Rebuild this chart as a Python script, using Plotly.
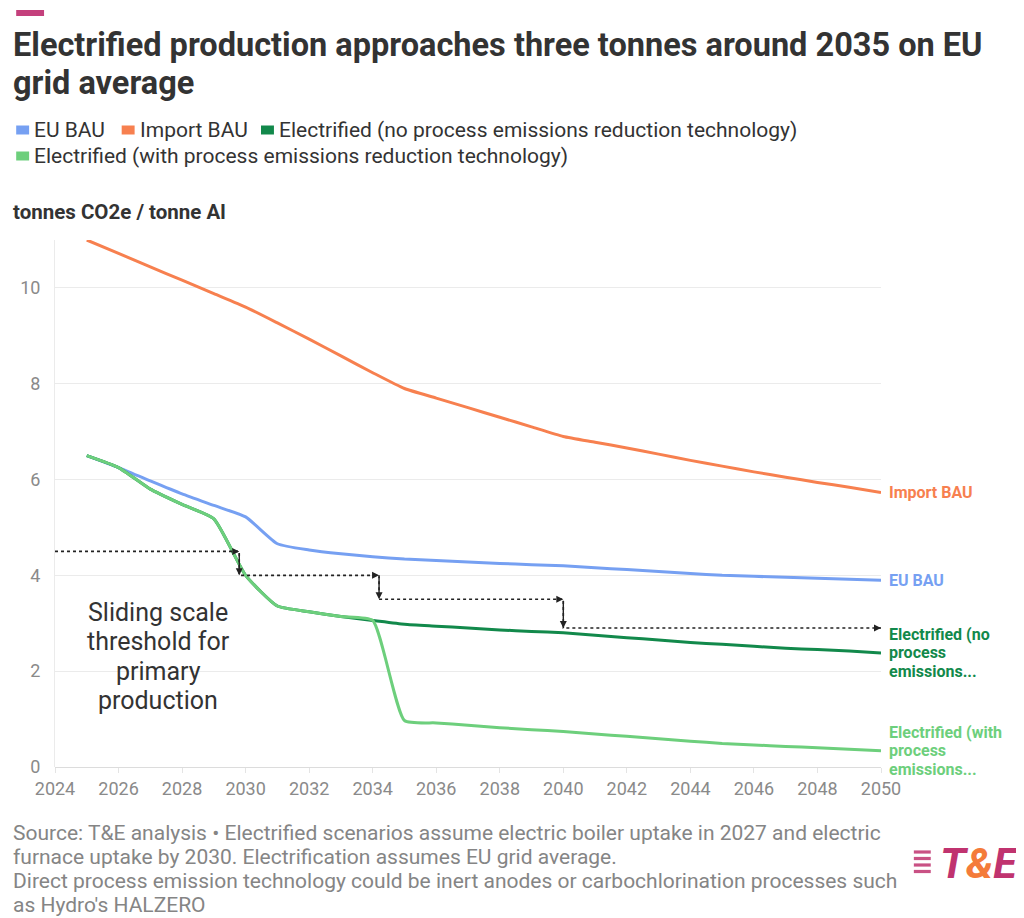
import plotly.graph_objects as go

# ---------------- data ----------------
years = list(range(2025, 2051))

eu_bau = [6.50, 6.25, 5.97, 5.70, 5.46, 5.22, 4.66, 4.53, 4.45, 4.39, 4.34, 4.31, 4.28, 4.25, 4.22, 4.20,
          4.16, 4.12, 4.08, 4.04, 4.00, 3.98, 3.96, 3.94, 3.92, 3.90]
import_bau = [11.00, 10.72, 10.44, 10.16, 9.88, 9.60, 9.27, 8.93, 8.58, 8.23, 7.90, 7.70, 7.50, 7.30, 7.10, 6.90,
              6.78, 6.66, 6.53, 6.40, 6.28, 6.16, 6.05, 5.94, 5.84, 5.73]
elec_no_tech = [6.50, 6.25, 5.80, 5.48, 5.18, 4.00, 3.36, 3.24, 3.14, 3.06, 2.98, 2.94, 2.90, 2.86, 2.83, 2.80,
                2.75, 2.70, 2.65, 2.60, 2.56, 2.52, 2.48, 2.45, 2.42, 2.38]
elec_with_tech = [6.50, 6.25, 5.80, 5.48, 5.18, 4.00, 3.36, 3.24, 3.14, 3.06, 0.97, 0.92, 0.87, 0.82, 0.78, 0.74,
                  0.69, 0.64, 0.59, 0.54, 0.49, 0.46, 0.43, 0.40, 0.37, 0.34]

series_names = ["EU BAU", "Import BAU", "Electrified (no process emissions reduction technology)",
                "Electrified (with process emissions reduction technology)"]
series_values = [eu_bau, import_bau, elec_no_tech, elec_with_tech]
series_colors = ["#76a0f2", "#f7804f", "#12894b", "#6dcf7c"]
end_labels = [["EU BAU"], ["Import BAU"], ["Electrified (no", "process", "emissions..."],
              ["Electrified (with", "process", "emissions..."]]

# sliding scale threshold (step segments)
threshold_start = [2024, 2029.8, 2034.2, 2040.0]
threshold_end = [2029.8, 2034.2, 2040.0, 2050.0]
threshold_value = [4.5, 4.0, 3.5, 2.9]

x_ticks = list(range(2024, 2051, 2))
y_ticks = [0, 2, 4, 6, 8, 10]

title_lines = ["Electrified production approaches three tonnes around 2035 on EU", "grid average"]
y_title = "tonnes CO2e / tonne Al"
footer_lines = [
    "Source: T&E analysis • Electrified scenarios assume electric boiler uptake in 2027 and electric",
    "furnace uptake by 2030. Electrification assumes EU grid average.",
    "Direct process emission technology could be inert anodes or carbochlorination processes such",
    "as Hydro's HALZERO",
]
note_lines = ["Sliding scale", "threshold for", "primary", "production"]

# ---------------- layout geometry ----------------
# page has an 8px body margin; figure is placed at (8, 8)
OFF = 8
W, H = 1016, 910
L, T = 51 - OFF, 240 - OFF          # plot area left/top inside figure
R = W - (881 - OFF)
B = H - (767 - OFF)
PW, PH = W - L - R, H - T - B


def px(x):  # page pixel x -> paper
    return (x - OFF - L) / PW


def py(y):  # page pixel y -> paper
    return (H - B - (y - OFF)) / PH


FONT = "Roboto, 'Open Sans', sans-serif"
DARK = "#333333"
GRAY = "#8a8a8a"

fig = go.Figure()

for name, vals, col in zip(series_names, series_values, series_colors):
    fig.add_trace(go.Scatter(x=years, y=vals, name=name, mode="lines",
                             line=dict(color=col, width=3, shape="spline", smoothing=0.5),
                             hoverinfo="x+y+name"))

# threshold dotted step line
sx_all, sy_all = [], []
for i in range(len(threshold_value)):
    sx_all += [threshold_start[i], threshold_end[i]]
    sy_all += [threshold_value[i], threshold_value[i]]
fig.add_trace(go.Scatter(x=sx_all, y=sy_all, mode="lines",
                         line=dict(color="#222222", width=1.6, dash="dot"),
                         hoverinfo="skip", showlegend=False))

annotations = []
shapes = []

# arrowheads
for i in range(len(threshold_value)):
    annotations.append(dict(x=threshold_end[i], y=threshold_value[i], xref="x", yref="y", text="",
                            showarrow=True, ax=-7, ay=0, arrowhead=2, arrowsize=1, arrowwidth=1.4,
                            arrowcolor="#222222"))
    if i + 1 < len(threshold_value):
        annotations.append(dict(x=threshold_end[i], y=threshold_value[i + 1], xref="x", yref="y", text="",
                                showarrow=True, ax=0, ay=-(threshold_value[i] - threshold_value[i + 1]) * PH / 11,
                                arrowhead=2, arrowsize=1, arrowwidth=1.4, arrowcolor="#222222"))

# end labels
for vals, col, lines in zip(series_values, series_colors, end_labels):
    n = len(lines)
    for k, t in enumerate(lines):
        annotations.append(dict(x=years[-1], y=vals[-1], xref="x", yref="y", text="<b>%s</b>" % t,
                                showarrow=False, xanchor="left", yanchor="middle", xshift=7,
                                yshift=((n - 1) / 2 - k) * 18.7, borderpad=0,
                                font=dict(family=FONT, size=16, color=col)))

# sliding scale note
for k, t in enumerate(note_lines):
    annotations.append(dict(x=px(155), y=py(612 + k * 29.5), xref="paper", yref="paper", text=t,
                            showarrow=False, xanchor="center", yanchor="middle", borderpad=0,
                            font=dict(family=FONT, size=25, color=DARK)))

# title
for k, t in enumerate(title_lines):
    annotations.append(dict(x=px(8), y=py(45 + k * 38), xref="paper", yref="paper", text="<b>%s</b>" % t,
                            showarrow=False, xanchor="left", yanchor="middle", borderpad=0,
                            font=dict(family=FONT, size=32.5, color=DARK)))
shapes.append(dict(type="rect", xref="paper", yref="paper", x0=px(12), x1=px(40), y0=py(16), y1=py(10),
                   fillcolor="#c4407c", line=dict(width=0)))

# custom legend
legend_items = [(12, 130, 0), (118, 130, 1), (258, 130, 2), (12, 156, 3)]
for x0, yc, idx in legend_items:
    shapes.append(dict(type="rect", xref="paper", yref="paper", x0=px(x0), x1=px(x0 + 13),
                       y0=py(yc + 4.5), y1=py(yc - 4.5), fillcolor=series_colors[idx], line=dict(width=0)))
    annotations.append(dict(x=px(x0 + 17), y=py(yc), xref="paper", yref="paper", text=series_names[idx],
                            showarrow=False, xanchor="left", yanchor="middle", borderpad=0,
                            font=dict(family=FONT, size=21, color=DARK)))

# y axis title
annotations.append(dict(x=px(8), y=py(212), xref="paper", yref="paper", text="<b>%s</b>" % y_title,
                        showarrow=False, xanchor="left", yanchor="middle", borderpad=0,
                        font=dict(family=FONT, size=20.5, color=DARK)))

# footer
for k, line in enumerate(footer_lines):
    annotations.append(dict(x=px(8), y=py(833 + k * 24), xref="paper", yref="paper", text=line,
                            showarrow=False, xanchor="left", yanchor="middle", borderpad=0,
                            font=dict(family=FONT, size=21, color="#858585")))

# logo
annotations.append(dict(x=px(1021), y=py(863), xref="paper", yref="paper",
                        text="<b><i><span style='color:#c0336f'>T</span><span style='color:#f47b3a'>&amp;</span>"
                             "<span style='color:#c0336f'>E</span></i></b>",
                        showarrow=False, xanchor="right", yanchor="middle", borderpad=0,
                        font=dict(family=FONT, size=43, color="#c0336f")))
for k, yy in enumerate([852, 858.5, 865, 871.5]):
    shapes.append(dict(type="rect", xref="paper", yref="paper", x0=px(914), x1=px(931),
                       y0=py(yy + 1.6), y1=py(yy - 1.6), fillcolor="#c0336f", opacity=0.85,
                       line=dict(width=0)))

fig.update_layout(
    width=W, height=H,
    margin=dict(l=L, r=R, t=T, b=B),
    paper_bgcolor="white", plot_bgcolor="white",
    showlegend=False,
    annotations=annotations, shapes=shapes,
    font=dict(family=FONT, color=DARK),
    xaxis=dict(range=[2024, 2050], tickvals=x_ticks, ticktext=[str(t) for t in x_ticks],
               showgrid=False, zeroline=False, showline=False,
               ticks="outside", ticklen=5, tickcolor="#e4e4e4", tickwidth=1,
               tickfont=dict(family=FONT, size=18, color=GRAY)),
    yaxis=dict(range=[0, 11], tickvals=y_ticks, showgrid=True, gridcolor="#ebebeb", gridwidth=1,
               zeroline=True, zerolinecolor="#dcdcdc", zerolinewidth=1,
               showline=True, linecolor="#ebebeb", linewidth=1,
               ticks="", ticklabelstandoff=10,
               tickfont=dict(family=FONT, size=18, color=GRAY)),
)

fig.write_html("out.html")
